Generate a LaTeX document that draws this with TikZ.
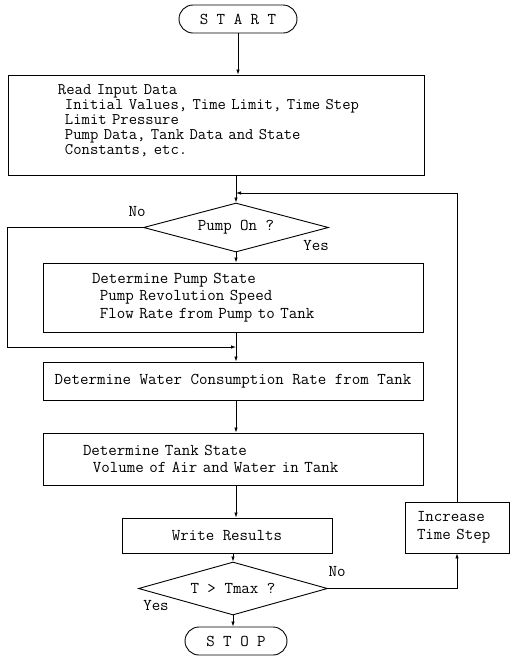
\documentclass[tikz,border=0pt]{standalone}
\usetikzlibrary{arrows.meta,shapes.geometric}

\newcommand{\lpad}[1]{\hspace*{#1pt}}

\begin{document}
\begin{tikzpicture}[
    x=1pt, y=-1pt,
    font=\ttfamily\fontsize{16.5}{17.5}\selectfont,
    box/.style={draw, line width=0.9pt, inner sep=0pt},
    term/.style={draw, line width=0.9pt, rounded corners=14pt, minimum height=28, inner sep=0pt},
    decision/.style={draw, diamond, line width=0.9pt, inner sep=1pt},
    flow/.style={line width=0.8pt, -{Latex[length=5pt,width=3.5pt]}},
    line/.style={line width=0.8pt},
    tag/.style={inner sep=0pt}
]
\useasboundingbox (0,0) rectangle (510,657);

% main axis
\def\ax{236}

% Terminals.
\node[term, minimum width=118] (start) at (238,19) {S T A R T};
\node[term, minimum width=102] (stop) at (236,641) {S T O P};

% Input block.
\node[box, text width=416, minimum height=100, align=left,
      font=\ttfamily\fontsize{16.2}{15}\selectfont] (input) at (216,125)
    {\lpad{50}Read Input Data\\
     \lpad{57}Initial Values, Time Limit, Time Step\\
     \lpad{57}Limit Pressure\\
     \lpad{57}Pump Data, Tank Data and State\\
     \lpad{57}Constants, etc.\rule[-11pt]{0pt}{0pt}};

% Pump branch.
\node[decision, minimum width=185, minimum height=49, aspect=3.78] (pump) at (\ax,227.5) {Pump On ?};
\node[box, text width=380, minimum height=69, align=left] (pstate) at (233,297.5)
    {\lpad{49}Determine Pump State\\
     \lpad{57}Pump Revolution Speed\\
     \lpad{57}Flow Rate from Pump to Tank};

% Tank computations.
\node[box, minimum width=380, minimum height=38] (water) at (233,381)
    {Determine Water Consumption Rate from Tank};
\node[box, text width=380, minimum height=52, align=left] (tank) at (233,459)
    {\lpad{40}Determine Tank State\\
     \lpad{50}Volume of Air and Water in Tank};
\node[box, minimum width=210, minimum height=35] (write) at (227,535.5) {Write Results};

% Time check and loop.
\node[decision, minimum width=189, minimum height=53, aspect=3.57] (tmax) at (233,588.5) {T > Tmax ?};
\node[box, text width=104, minimum height=51, align=left] (inc) at (457,527.5)
    {\lpad{12}Increase\\
     \lpad{12}Time Step};

% Branch labels.
\node[tag] (pumpno) at (137,212) {No};
\node[tag] (pumpyes) at (316,246) {Yes};
\node[tag] (tmaxno) at (337,572) {No};
\node[tag] (tmaxyes) at (156,606) {Yes};

% Junction points.
\coordinate (merge) at (\ax,193);
\coordinate (join) at (\ax,347);
\coordinate (nocorner) at (7,347);

% Connectors.
\draw[flow] (start.south) -- (input.north -| start.south);
\draw[line] (input.south -| merge) -- (merge);
\draw[flow] (merge) -- (pump.north);
\draw[flow] (pump.south) -- (pstate.north -| pump.south);
\draw[flow] (pump.west) -- (pump.west -| nocorner) |- (join);
\draw[line] (pstate.south -| join) -- (join);
\draw[flow] (join) -- (water.north -| join);
\draw[flow] (water.south -| join) -- (tank.north -| join);
\draw[flow] (tank.south -| join) -- (write.north -| join);
\draw[flow] (write.south -| tmax.north) -- (tmax.north);
\draw[flow] (tmax.south) -- (stop.north -| tmax.south);
\draw[flow] (tmax.east) -| (inc.south);
\draw[flow] (inc.north) |- (merge);

\end{tikzpicture}
\end{document}
